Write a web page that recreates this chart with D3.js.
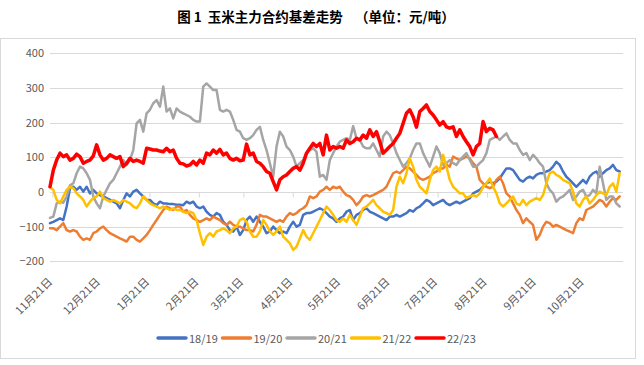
<!DOCTYPE html>
<html><head><meta charset="utf-8">
<script src="https://cdn.jsdelivr.net/npm/d3@7/dist/d3.min.js"></script>
<style>body{margin:0;background:#fff}svg{display:block}</style>
</head><body><svg id="c" width="644" height="365"></svg>
<script>
const title = "图 1  玉米主力合约基差走势    （单位：元/吨）";
const seriesNames = ["18/19","19/20","20/21","21/22","22/23"];
const seriesColors = ["#4472C4","#ED7D31","#A5A5A5","#FFC000","#FF0000"];
const yTicks = [-200,-100,0,100,200,300,400];
const monthLabels = ["11月21日","12月21日","1月21日","2月21日","3月21日","4月21日","5月21日","6月21日","7月21日","8月21日","9月21日","10月21日"];
const monthDates = [[2021,10,21],[2021,11,21],[2022,0,21],[2022,1,21],[2022,2,21],[2022,3,21],[2022,4,21],[2022,5,21],[2022,6,21],[2022,7,21],[2022,8,21],[2022,9,21]];
const startDate = [2021,10,19,12];
const daysPerPoint = 2.093;
const spanDays = 360;

const s1819 = [-90,-86,-81,-76,-81,-42,11,15,6,15,1,15,-4,6,-4,-9,-13,-18,-23,-28,-33,-47,-23,-4,-13,1,6,-4,-13,-23,-23,-33,-38,-28,-33,-33,-35,-35,-37,-37,-38,-28,-33,-28,-42,-47,-42,-57,-66,-71,-61,-66,-86,-95,-110,-114,-100,-124,-110,-81,-71,-86,-71,-86,-100,-119,-114,-100,-110,-119,-114,-119,-100,-86,-100,-95,-66,-61,
-61,-57,-52,-47,-52,-61,-71,-76,-86,-76,-71,-57,-52,-81,-66,-61,-52,-47,-57,-61,-66,-71,-76,-81,-71,-71,-66,-71,-66,-61,-52,-57,-47,-42,-33,-23,-28,-38,-33,-28,-23,-33,-38,-33,-28,-33,-28,-23,-18,-4,1,6,15,25,30,25,30,39,54,68,68,63,49,35,30,39,44,39,49,54,54,59,63,73,87,78,59,44,35,25,15,25,35,25,44,54,59,44,54,63,68,78,63,59];
const s1920 = [-105,-105,-110,-100,-90,-110,-114,-110,-114,-129,-138,-134,-138,-119,-114,-105,-100,-110,-119,-124,-129,-134,-138,-143,-129,-129,-138,-143,-134,-124,-110,-95,-81,-66,-52,-42,-47,-52,-42,-42,-57,-52,-66,-76,-81,-86,-81,-76,-81,-71,-76,-81,-90,-95,-86,-95,-100,-100,-105,-110,-110,-114,-95,-66,-71,-71,-76,-81,-86,-81,-86,-71,-61,-66,-61,-52,-47,-38,
-13,-18,-13,1,6,15,6,15,11,15,1,-9,-13,-23,-38,-28,-13,-9,-13,-9,-4,1,6,15,35,54,59,54,63,73,68,59,49,39,35,39,44,54,59,68,68,78,73,102,97,92,97,102,97,83,73,35,25,15,11,15,35,44,25,-4,-13,-33,-52,-66,-90,-76,-86,-95,-138,-124,-100,-86,-90,-100,-95,-100,-105,-110,-114,-119,-90,-76,-81,-52,-47,-42,-33,-23,-28,-42,-28,-18,-23,-13];
const s2021 = [-75,-71,-33,-28,-31,-13,19,25,54,73,68,54,35,-13,-33,-47,-13,6,25,35,54,73,92,78,92,121,198,208,174,227,237,256,265,246,304,232,241,212,241,232,227,222,217,208,203,203,304,313,304,294,294,237,232,237,232,208,179,174,155,150,155,164,179,188,150,121,83,44,131,174,160,131,121,102,73,83,92,112,
121,126,116,44,49,35,92,112,131,145,150,155,150,190,155,150,131,126,126,140,121,102,160,174,164,140,112,92,73,83,97,121,140,140,112,92,73,102,131,112,78,83,92,83,78,92,102,112,92,73,73,83,92,112,150,155,160,150,160,169,150,140,140,121,107,112,92,107,97,83,73,25,6,-4,-28,-18,-13,-4,6,-23,-13,1,6,-13,-9,6,-4,73,25,-23,-13,-13,-33,-42];
const s2122 = [15,6,-23,-33,-13,6,15,11,-4,-13,-23,-42,-28,-18,-13,1,-18,-23,-28,-23,-28,-33,-23,-28,-33,-42,-47,-33,-13,-23,-33,-38,-42,-47,-42,-47,-52,-47,-52,-52,-57,-61,-57,-61,-81,-119,-153,-129,-119,-129,-114,-110,-105,-110,-119,-105,-100,-81,-76,-86,-114,-129,-129,-114,-81,-95,-114,-124,-114,-100,-129,-138,-148,-167,-158,-134,-110,-129,
-138,-119,-100,-81,-61,-42,-52,-66,-81,-86,-76,-86,-66,-81,-95,-71,-47,-42,-33,-23,-38,-47,-57,-61,-66,-52,15,44,25,54,97,73,35,15,6,-4,35,63,73,59,107,73,35,15,6,-4,-4,-18,-13,-9,-13,-4,15,25,39,15,-4,-33,-42,-33,-23,-13,-33,-38,-23,-38,-28,-23,-18,-23,-9,25,54,59,49,44,35,30,25,1,-33,-42,-23,-13,-33,-23,-9,1,-4,-9,15,25,1,54];
const s2223 = [15,63,92,112,102,107,92,97,109,102,83,88,92,104,136,107,92,97,107,102,97,102,73,83,97,88,92,88,83,126,124,121,121,118,116,126,116,121,97,83,81,75,78,88,78,92,83,112,107,121,112,123,107,112,97,92,97,90,92,138,107,112,88,83,73,59,54,30,6,35,44,49,59,68,73,63,83,112,
126,140,131,140,107,164,121,131,126,131,126,150,140,145,155,150,164,155,179,160,174,145,112,121,131,140,155,169,198,227,237,217,187,232,241,251,232,222,208,193,203,188,184,188,160,179,160,145,131,107,131,140,203,174,184,179,160];
const seriesData = [s1819, s1920, s2021, s2122, s2223];

const svg = d3.select("#c");
const W = 644, H = 365;
const m = {left:50, right:21, top:53, bottom:104};
const font = "'Noto Sans CJK SC','Noto Sans',sans-serif";
const grey = "#595959";

svg.append("rect").attr("x",0.5).attr("y",38.5).attr("width",635).attr("height",320)
  .attr("fill","#fff").attr("stroke","#d9d9d9");

svg.append("text").attr("x",316).attr("y",22).attr("text-anchor","middle")
  .style("white-space","pre")
  .attr("font-family",font).attr("font-size",13.5).attr("font-weight","bold").attr("fill","#000")
  .text(title);

const d0 = new Date(...startDate);
const dayMs = 86400000;
const x = d3.scaleTime().domain([d0, new Date(+d0 + spanDays*dayMs)]).range([m.left, W - m.right]);
const y = d3.scaleLinear().domain([-200,400]).range([261.3, 53.3]);

svg.append("g").selectAll("line").data(yTicks).join("line")
  .attr("x1",m.left).attr("x2",W-m.right).attr("y1",d=>Math.round(y(d))+0.5).attr("y2",d=>Math.round(y(d))+0.5)
  .attr("stroke","#d9d9d9").attr("stroke-width",1);

const yAxis = d3.axisLeft(y).tickValues(yTicks).tickSize(0).tickPadding(6).tickFormat(d3.format("d"));
const ya = svg.append("g").attr("transform",`translate(${m.left},0)`).call(yAxis);
ya.select(".domain").remove();
ya.selectAll("text").attr("font-family",font).attr("font-size",11).attr("fill",grey);

const tickDates = monthDates.map(d=>new Date(...d));
const xAxis = d3.axisBottom(x).tickValues(tickDates).tickSize(5).tickFormat("");
const xa = svg.append("g").attr("transform",`translate(0,${Math.round(y(0))+0.5})`).call(xAxis);
xa.select(".domain").attr("stroke","#d9d9d9").attr("d",`M${m.left},0H${W-m.right}`);
xa.selectAll(".tick line").attr("stroke","#d9d9d9");

svg.append("g").selectAll("text").data(monthLabels).join("text")
  .attr("transform",(d,i)=>`translate(${x(tickDates[i])-3},${279}) rotate(-45)`)
  .attr("text-anchor","end").attr("dominant-baseline","central")
  .attr("font-family",font).attr("font-size",11).attr("fill",grey)
  .text(d=>d);

const line = d3.line().x((d,i)=>x(new Date(+d0 + i*daysPerPoint*dayMs))).y(d=>y(d)).curve(d3.curveLinear);
seriesData.forEach((s,k)=>{
  svg.append("path").datum(s).attr("d",line).attr("fill","none")
    .attr("stroke",seriesColors[k]).attr("stroke-width",k===4?3.5:2.5)
    .attr("stroke-linejoin","round").attr("stroke-linecap","round");
});

const lg = svg.append("g").attr("transform","translate(158,338)");
seriesNames.forEach((n,k)=>{
  const g = lg.append("g").attr("transform",`translate(${k*64.5},0)`);
  g.append("line").attr("x1",0).attr("x2",28).attr("y1",0).attr("y2",0)
    .attr("stroke",seriesColors[k]).attr("stroke-width",3.5).attr("stroke-linecap","round");
  g.append("text").attr("x",31).attr("y",0).attr("dominant-baseline","central")
    .attr("font-family",font).attr("font-size",11).attr("fill",grey).text(n);
});
</script></body></html>
